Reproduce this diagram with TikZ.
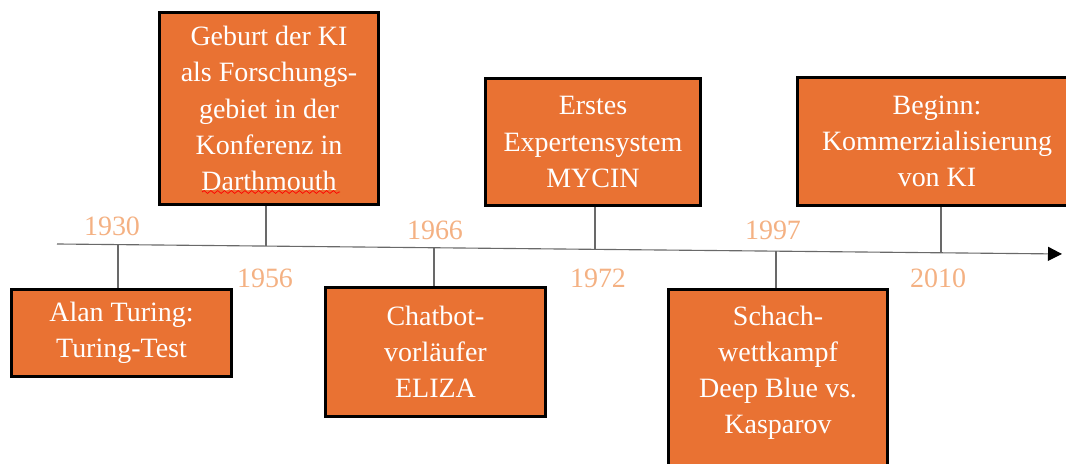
\documentclass[tikz,border=0pt]{standalone}
\usepackage{fontspec}
\setmainfont{Liberation Serif}
\usetikzlibrary{arrows.meta,decorations.pathmorphing}

\definecolor{kiorange}{RGB}{233,114,51}
\definecolor{yearorange}{RGB}{244,177,131}
\definecolor{linegray}{RGB}{105,105,105}

\tikzset{
  event/.style={draw=black, line width=2pt, fill=kiorange, text=white, align=center,
    inner sep=0pt, font=\fontsize{19.9}{25.8}\selectfont},
  year/.style={text=yearorange, inner sep=0pt, font=\fontsize{19.9}{25.8}\selectfont},
  stem/.style={draw=linegray, line width=0.8pt},
}

\begin{document}
\begin{tikzpicture}[x=0.025cm, y=-0.025cm]
      \useasboundingbox (0,0) rectangle (1066,464);
      \clip (0,0) rectangle (1066,464);

      \coordinate (axstart) at (57,244);
      \coordinate (axend) at (1062,254);
      \draw[linegray, line width=0.8pt, -{Triangle[length=0.35cm,width=0.35cm,color=black]}] (axstart) -- (axend);

      \path (121.5,333) node[event, minimum width=5.5cm, minimum height=2.18cm] (turing) {Alan Turing:\\Turing-Test};
      \path (269,108.5) node[event, minimum width=5.48cm, minimum height=4.8cm] (dartmouth) {Geburt der KI\\als Forschungs-\\gebiet in der\\Konferenz in\\Darthmouth};
      \path (435.5,352) node[event, minimum width=5.5cm, minimum height=3.23cm] (eliza) {Chatbot-\\vorläufer\\ELIZA};
      \path (593,142) node[event, minimum width=5.38cm, minimum height=3.18cm] (mycin) {Erstes\\Expertensystem\\MYCIN};
      \path (778,388) node[event, minimum width=5.48cm, minimum height=4.93cm] (deepblue) {Schach-\\wettkampf\\Deep Blue vs.\\Kasparov\\\mbox{}};
      \path (937,141.5) node[event, minimum width=6.98cm, minimum height=3.2cm] (kommerz) {Beginn:\\Kommerzialisierung\\von KI};

      \draw[red, line width=0.5pt, decorate, decoration={snake, segment length=0.17cm, amplitude=0.035cm}] (202,192) -- (340,192);

      \coordinate (t1930) at (118,244.6);
      \coordinate (t1956) at (266,246.1);
      \coordinate (t1966) at (434,247.8);
      \coordinate (t1972) at (595,249.4);
      \coordinate (t1997) at (776,251.2);
      \coordinate (t2010) at (941,252.8);

      \draw[stem] (t1930) -- (t1930 |- turing.north);
      \draw[stem] (t1956) -- (t1956 |- dartmouth.south);
      \draw[stem] (t1966) -- (t1966 |- eliza.north);
      \draw[stem] (t1972) -- (t1972 |- mycin.south);
      \draw[stem] (t1997) -- (t1997 |- deepblue.north);
      \draw[stem] (t2010) -- (t2010 |- kommerz.south);

      \foreach \yr/\x/\y in {1930/112/226, 1956/265/278, 1966/435/230, 1972/598/278, 1997/773/230, 2010/938/278} {
        \node[year] (y\yr) at (\x,\y) {\yr};
      }
\end{tikzpicture}
\end{document}
